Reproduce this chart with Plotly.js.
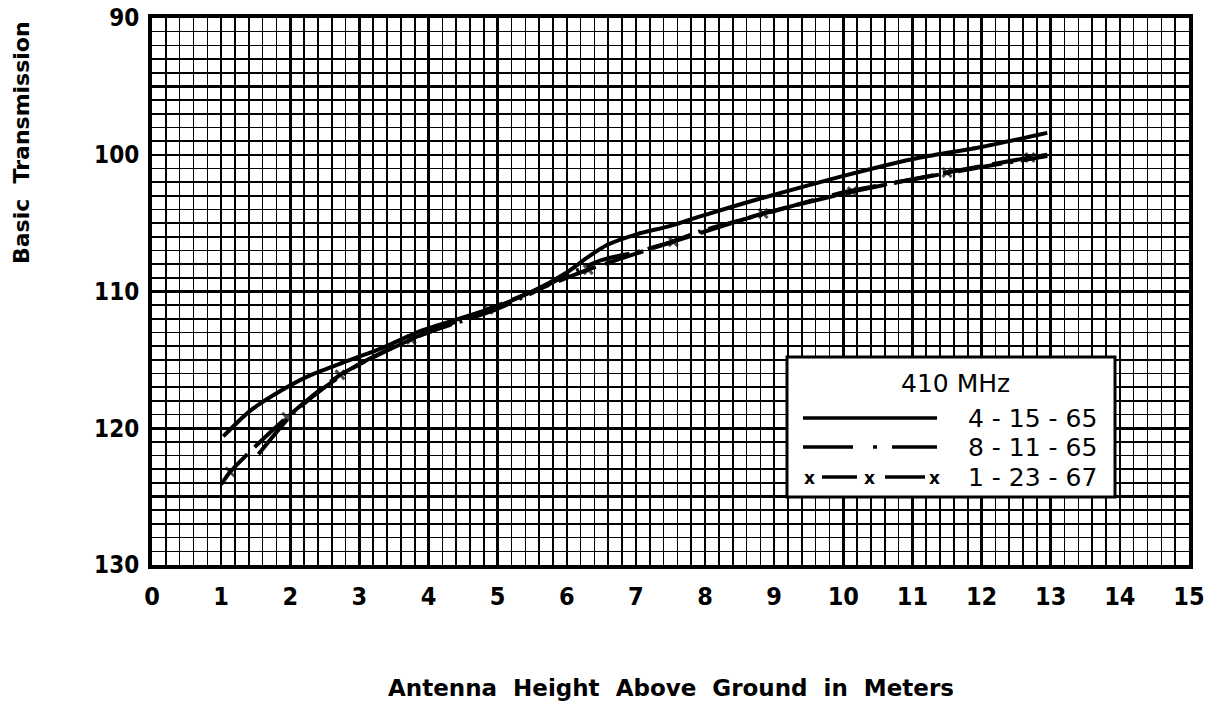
<!DOCTYPE html>
<html>
<head>
<meta charset="utf-8">
<script src="https://cdn.plot.ly/plotly-3.0.1.min.js"></script>
<style>html,body{margin:0;padding:0;background:#fff;}#chart{width:1211px;height:703px;}</style>
</head>
<body>
<div id="chart"></div>
<script>
// ---- data ----
const xTickVals = [0,1,2,3,4,5,6,7,8,9,10,11,12,13,14,15];
const xTickText = ["0","1","2","3","4","5","6","7","8","9","10","11","12","13","14","15"];
const yTickVals = [90,95,100,105,110,115,120,125,130];
const yTickText = ["90","","100","","110","","120","","130"];

// 4-15-65 (solid)
const xApr65 = [1.03,1.4,1.85,2.3,2.76,3.3,3.88,4.5,4.93,5.5,6.0,6.3,6.58,7.02,7.5,7.93,8.8,9.96,11.11,11.98,12.95];
const yApr65 = [120.6,118.8,117.3,116.1,115.2,114.2,112.9,111.9,111.2,110.0,108.6,107.5,106.6,105.8,105.2,104.5,103.2,101.6,100.2,99.45,98.4];

// 8-11-65 (dash-dot)
const xAug65 = [1.54,2.04,2.5,3.0,3.88,4.93,5.5,6.0,6.5,7.02,7.5,7.93,8.8,9.96,11.11,12.0,12.95];
const yAug65 = [121.9,118.9,117.0,115.3,113.2,111.4,110.1,108.8,107.7,107.1,106.4,105.6,104.4,102.8,101.7,100.9,100.1];

// 1-23-67 (x markers)
const xJan67 = [1.0,1.13,1.5,1.95,2.72,3.75,4.86,6.31,7.54,8.84,10.13,11.5,12.7,12.95];
const yJan67 = [124.1,123.2,121.3,119.2,116.1,113.5,111.3,108.4,106.35,104.3,102.7,101.3,100.2,100.0];
const mJan67 = [0,1,0,1,1,1,1,1,1,1,1,1,1,0];

const legendTitle = "410 MHz";
const legendLabels = ["4 - 15 - 65","8 - 11 - 65","1 - 23 - 67"];
const xTitle = "Antenna  Height  Above  Ground  in  Meters";
const yTitle = "Basic  Transmission";

// ---- plot ----
const traces = [
  {x:xApr65, y:yApr65, mode:'lines', line:{color:'#000', width:4, shape:'spline', smoothing:0.6}, hoverinfo:'skip'},
  {x:xAug65, y:yAug65, mode:'lines', line:{color:'#000', width:4, shape:'spline', smoothing:0.6, dash:'45px,8px,3px,8px'}, hoverinfo:'skip'},
  {x:xJan67, y:yJan67, mode:'lines+markers', line:{color:'#000', width:4, shape:'spline', smoothing:0.6, dash:'40px,10px'},
   marker:{symbol:'x-thin', size:mJan67.map(v=>v?9:0), line:{color:'#000', width:3}, color:'#000'}, hoverinfo:'skip'}
];

const L=152, R=1189, T=18, B=565;
const px = v => (v-L)/(R-L);
const py = v => (B-v)/(B-T);

const shapes = [
  {type:'rect', xref:'paper', yref:'paper', x0:px(787), x1:px(1115), y0:py(497), y1:py(357),
   fillcolor:'#fff', line:{color:'#000', width:3}, layer:'above'},
  // row 1 solid
  {type:'line', xref:'paper', yref:'paper', x0:px(803), x1:px(937), y0:py(418), y1:py(418), line:{color:'#000', width:3.5}, layer:'above'},
  // row 2 dash dot
  {type:'line', xref:'paper', yref:'paper', x0:px(803), x1:px(853), y0:py(447), y1:py(447), line:{color:'#000', width:3.5}, layer:'above'},
  {type:'line', xref:'paper', yref:'paper', x0:px(873), x1:px(877), y0:py(447), y1:py(447), line:{color:'#000', width:3.5}, layer:'above'},
  {type:'line', xref:'paper', yref:'paper', x0:px(892), x1:px(937), y0:py(447), y1:py(447), line:{color:'#000', width:3.5}, layer:'above'},
  // row 3 dashes between x's
  {type:'line', xref:'paper', yref:'paper', x0:px(822), x1:px(857), y0:py(477), y1:py(477), line:{color:'#000', width:3.5}, layer:'above'},
  {type:'line', xref:'paper', yref:'paper', x0:px(885), x1:px(925), y0:py(477), y1:py(477), line:{color:'#000', width:3.5}, layer:'above'}
];

const annFont = {family:'DejaVu Sans', size:25, color:'#000'};
const xFont = {family:'DejaVu Sans', size:17, color:'#000', weight:'bold'};
const annotations = [
  {xref:'paper', yref:'paper', x:px(955), y:py(383), text:legendTitle, showarrow:false, xanchor:'center', yanchor:'middle', font:{family:'DejaVu Sans', size:25, color:'#000'}},
  {xref:'paper', yref:'paper', x:px(1032), y:py(418), text:legendLabels[0], showarrow:false, xanchor:'center', yanchor:'middle', font:annFont},
  {xref:'paper', yref:'paper', x:px(1032), y:py(447), text:legendLabels[1], showarrow:false, xanchor:'center', yanchor:'middle', font:annFont},
  {xref:'paper', yref:'paper', x:px(1032), y:py(477), text:legendLabels[2], showarrow:false, xanchor:'center', yanchor:'middle', font:annFont},
  {xref:'paper', yref:'paper', x:px(809), y:py(478), text:'x', showarrow:false, xanchor:'center', yanchor:'middle', font:xFont},
  {xref:'paper', yref:'paper', x:px(869), y:py(478), text:'x', showarrow:false, xanchor:'center', yanchor:'middle', font:xFont},
  {xref:'paper', yref:'paper', x:px(934), y:py(478), text:'x', showarrow:false, xanchor:'center', yanchor:'middle', font:xFont},
  {xref:'paper', yref:'paper', x:0.5, y:py(688), text:xTitle, showarrow:false, xanchor:'center', yanchor:'middle', font:{family:'DejaVu Sans', size:23, color:'#000', weight:'bold'}},
  {xref:'paper', yref:'paper', x:px(22), y:py(143), text:yTitle, textangle:-90, showarrow:false, xanchor:'center', yanchor:'middle', font:{family:'DejaVu Sans', size:22, color:'#000', weight:'bold'}}
];

const tickFam = 'Liberation Sans Narrow, DejaVu Sans Condensed, Roboto, sans-serif';

const layout = {
  width:1211, height:703,
  margin:{l:L, r:1211-R, t:T, b:703-B},
  paper_bgcolor:'#fff', plot_bgcolor:'#fff',
  showlegend:false,
  xaxis:{range:[0,15], tickmode:'array', tickvals:xTickVals, ticktext:xTickText, ticks:'', ticklabelstandoff:6,
    tickfont:{family:tickFam, size:25, color:'#000', weight:'bold'}, showgrid:true, gridcolor:'#000', gridwidth:2.5, zeroline:false,
    showline:true, linecolor:'#000', linewidth:4, mirror:true,
    minor:{tickmode:'linear', tick0:0, dtick:0.2, showgrid:true, gridcolor:'#000', gridwidth:1.6, ticks:''}},
  yaxis:{range:[130,90], tickmode:'array', tickvals:yTickVals, ticktext:yTickText, ticks:'', ticklabelstandoff:4,
    tickfont:{family:tickFam, size:24, color:'#000', weight:'bold'}, showgrid:true, gridcolor:'#000', gridwidth:2.5, zeroline:false,
    showline:true, linecolor:'#000', linewidth:4, mirror:true,
    minor:{tickmode:'linear', tick0:90, dtick:1, showgrid:true, gridcolor:'#000', gridwidth:1.6, ticks:''}},
  shapes:shapes,
  annotations:annotations
};

Plotly.newPlot('chart', traces, layout, {staticPlot:true, displayModeBar:false});
</script>
</body>
</html>
